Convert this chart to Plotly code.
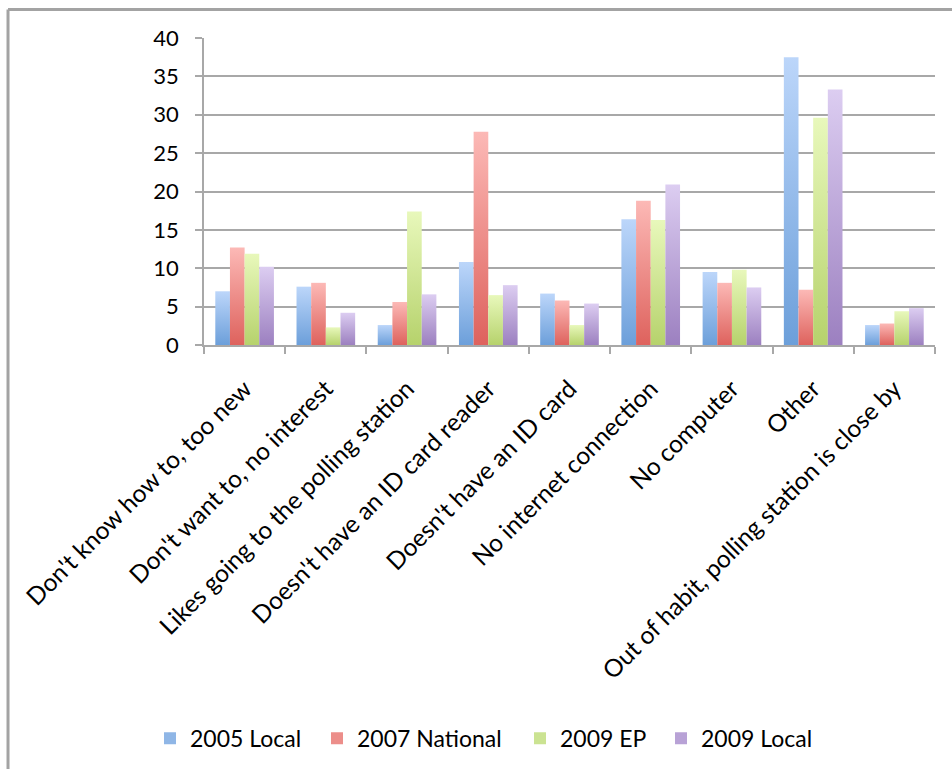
import plotly.graph_objects as go

# Reasons given for not voting online, per election (percent)
categories = [
    "Don't know how to, too new",
    "Don't want to, no interest",
    "Likes going to the polling station",
    "Doesn't have an ID card reader",
    "Doesn't have an ID card",
    "No internet connection",
    "No computer",
    "Other",
    "Out of habit, polling station is close by",
]
local_2005 = [7.0, 7.6, 2.6, 10.8, 6.7, 16.4, 9.5, 37.5, 2.6]
national_2007 = [12.7, 8.1, 5.6, 27.8, 5.8, 18.8, 8.1, 7.2, 2.8]
ep_2009 = [11.9, 2.3, 17.4, 6.5, 2.6, 16.3, 9.8, 29.6, 4.4]
local_2009 = [10.2, 4.2, 6.6, 7.8, 5.4, 20.9, 7.5, 33.3, 4.8]
y_ticks = [0, 5, 10, 15, 20, 25, 30, 35, 40]

series = [
    ("2005 Local", local_2005, "#6c9fda", "#bcd6fa", "#8fb6e6"),
    ("2007 National", national_2007, "#de625d", "#fcb9b6", "#ec8e8a"),
    ("2009 EP", ep_2009, "#b6d26c", "#e8f8bb", "#cbe392"),
    ("2009 Local", local_2009, "#9c80c0", "#dccdf1", "#b8a2d6"),
]

# left edge (px) of each legend entry's text
legend_text_x = [190, 357, 560, 701]

FONT = "Lato"
GRID = "#a8a8a8"
group_width = 0.722
bar_w = group_width / len(series)

fig = go.Figure()
legend_layouts = {}

for s, (name, values, dark, light, mid) in enumerate(series):
    for i, v in enumerate(values):
        x0 = i - group_width / 2 + s * bar_w
        x1 = x0 + bar_w
        fig.add_trace(go.Scatter(
            x=[x0, x1, x1, x0, x0],
            y=[0, 0, v, v, 0],
            mode="lines",
            line=dict(width=0),
            fill="toself",
            fillcolor=mid,
            fillgradient=dict(type="vertical", colorscale=[[0, dark], [1, light]]),
            hoverinfo="text",
            text=f"{name}: {v}",
            name=name,
            legendgroup=name,
            showlegend=False,
        ))
    key = "legend" if s == 0 else f"legend{s + 1}"
    # legend swatch
    fig.add_trace(go.Bar(
        x=[None], y=[None], name=name, legendgroup=name,
        marker=dict(color=mid, line=dict(width=0)),
        showlegend=True, legend=key,
    ))
    legend_layouts[key] = dict(
        orientation="h",
        xref="container", yref="container",
        x=(legend_text_x[s] - 40) / 952, y=0.04,
        xanchor="left", yanchor="middle",
        font=dict(family=FONT, size=23, color="black"),
        itemwidth=30,
        bgcolor="rgba(0,0,0,0)",
    )

# outer chart frame
frame = dict(color="#a3a3a3", width=3)
fig.add_shape(type="line", xref="paper", yref="paper",
              x0=-0.2681, x1=1.5, y0=1.0928, y1=1.0928, line=frame)
fig.add_shape(type="line", xref="paper", yref="paper",
              x0=-0.2681, x1=-0.2681, y0=1.0928, y1=-2.0, line=frame)

fig.update_layout(
    width=952,
    height=769,
    margin=dict(l=204, r=17, t=38, b=424),
    paper_bgcolor="white",
    plot_bgcolor="white",
    font=dict(family=FONT, size=22, color="black"),
    showlegend=True,
    xaxis=dict(
        range=[-0.5, 8.5],
        tickmode="array",
        tickvals=list(range(len(categories))),
        ticktext=categories,
        tickangle=-45,
        tickfont=dict(family=FONT, size=24.5, color="black"),
        ticks="",
        ticklabelstandoff=18,
        showgrid=False,
        zeroline=False,
        showline=True,
        linecolor=GRID,
        linewidth=1.5,
        minor=dict(
            tickmode="array",
            tickvals=[k - 0.5 for k in range(len(categories) + 1)],
            ticks="outside",
            ticklen=7,
            tickwidth=1.5,
            tickcolor=GRID,
            showgrid=False,
        ),
        fixedrange=True,
    ),
    yaxis=dict(
        range=[0, 40],
        tickmode="array",
        tickvals=y_ticks,
        ticks="outside",
        ticklen=7,
        tickwidth=1.5,
        tickcolor=GRID,
        ticklabelstandoff=12,
        showgrid=True,
        gridcolor=GRID,
        gridwidth=1.5,
        zeroline=False,
        showline=True,
        linecolor=GRID,
        linewidth=1.5,
        fixedrange=True,
    ),
    **legend_layouts,
)

fig.write_html("out.html")
